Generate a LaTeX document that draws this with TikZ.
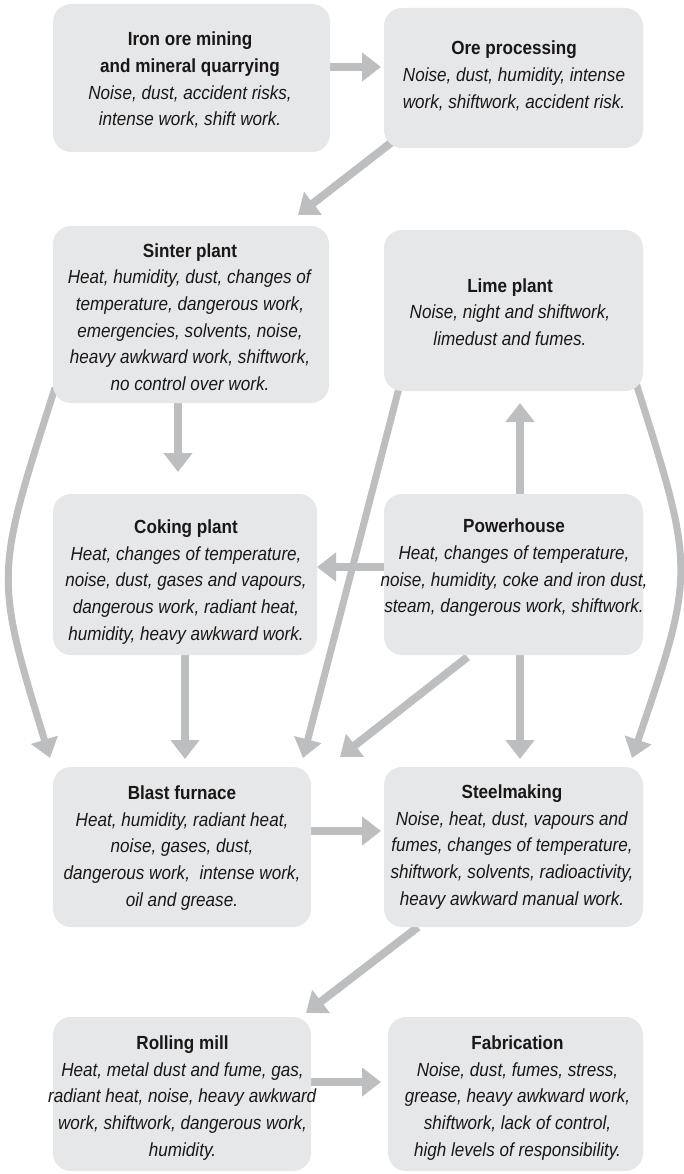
\documentclass[tikz,border=0pt]{standalone}
\usepackage{fontspec}
\setmainfont[FakeStretch=0.9]{Liberation Sans}
\usetikzlibrary{arrows.meta,calc,backgrounds}
\definecolor{boxfill}{HTML}{E6E7E8}
\definecolor{arrowcol}{HTML}{BCBEC0}
\definecolor{textcol}{HTML}{1A1718}
\begin{document}
\begin{tikzpicture}[x=1pt,y=-1pt,
  stagebox/.style={rectangle, rounded corners=18pt, fill=boxfill, inner sep=0pt, outer sep=0pt},
  txt/.style={align=center, text=textcol, inner sep=0pt, font=\fontsize{19pt}{26.7pt}\selectfont},
  flow/.style={draw=arrowcol, line width=8pt, -{Triangle[length=19pt,width=28pt]}},
  thinflow/.style={draw=arrowcol, line width=7pt, -{Triangle[length=19pt,width=27pt]}}]
\useasboundingbox (0,0) rectangle (684,1174);

% boxes
\node[stagebox, minimum width=277pt, minimum height=148pt] (iron) at (191.5,78) {};
\node[stagebox, minimum width=259pt, minimum height=140pt] (ore) at (513.5,78) {};
\node[stagebox, minimum width=276pt, minimum height=177pt] (sinter) at (191,314.5) {};
\node[stagebox, minimum width=259pt, minimum height=161pt] (lime) at (513.5,310.5) {};
\node[stagebox, minimum width=264pt, minimum height=161pt] (coking) at (185,574.5) {};
\node[stagebox, minimum width=259pt, minimum height=161pt] (power) at (513.5,574.5) {};
\node[stagebox, minimum width=258pt, minimum height=160pt] (blast) at (182,847) {};
\node[stagebox, minimum width=259pt, minimum height=160pt] (steel) at (513.5,847) {};
\node[stagebox, minimum width=258pt, minimum height=154pt] (rolling) at (182,1094) {};
\node[stagebox, minimum width=255pt, minimum height=154pt] (fab) at (515.5,1094) {};

% texts
\node[txt] (irontxt) at (190,80) {\textbf{Iron ore mining}\\\textbf{and mineral quarrying}\\\textit{Noise, dust, accident risks,}\\\textit{intense work, shift work.}};
\node[txt] (oretxt) at (514,76) {\textbf{Ore processing}\\\textit{Noise, dust, humidity, intense}\\\textit{work, shiftwork, accident risk.}};
\node[txt] (sintertxt) at (190,317) {\textbf{Sinter plant}\\\textit{Heat, humidity, dust, changes of}\\\textit{temperature, dangerous work,}\\\textit{emergencies, solvents, noise,}\\\textit{heavy awkward work, shiftwork,}\\\textit{no control over work.}};
\node[txt] (limetxt) at (510,312) {\textbf{Lime plant}\\\textit{Noise, night and shiftwork,}\\\textit{limedust and fumes.}};
\node[txt] (cokingtxt) at (186,582) {\textbf{Coking plant}\\\textit{Heat, changes of temperature,}\\\textit{noise, dust, gases and vapours,}\\\textit{dangerous work, radiant heat,}\\\textit{humidity, heavy awkward work.}};
\node[txt] (powertxt) at (514,568) {\textbf{Powerhouse}\\\textit{Heat, changes of temperature,}\\\textit{noise, humidity, coke and iron dust,}\\\textit{steam, dangerous work, shiftwork.}};
\node[txt] (blasttxt) at (182,848) {\textbf{Blast furnace}\\\textit{Heat, humidity, radiant heat,}\\\textit{noise, gases, dust,}\\\textit{dangerous work,\ \ intense work,}\\\textit{oil and grease.}};
\node[txt] (steeltxt) at (512,847) {\textbf{Steelmaking}\\\textit{Noise, heat, dust, vapours and}\\\textit{fumes, changes of temperature,}\\\textit{shiftwork, solvents, radioactivity,}\\\textit{heavy awkward manual work.}};
\node[txt] (rollingtxt) at (182.5,1098) {\textbf{Rolling mill}\\\textit{Heat, metal dust and fume, gas,}\\\textit{radiant heat, noise, heavy awkward}\\\textit{work, shiftwork, dangerous work,}\\\textit{humidity.}};
\node[txt] (fabtxt) at (517.5,1098) {\textbf{Fabrication}\\\textit{Noise, dust, fumes, stress,}\\\textit{grease, heavy awkward work,}\\\textit{shiftwork, lack of control,}\\\textit{high levels of responsibility.}};

\begin{pgfonlayer}{background}
\draw[flow] ($(iron.east)+(0,-11)$) -- ($(ore.west)+(-3,-11)$);
\draw[flow] ($(ore.south west)+(8,-6)$) -- ($(sinter.north east)+(-31,-11)$);
\draw[flow] ($(sinter.south)+(-13,0)$) -- ($(coking.north)+(-7,-22)$);
\draw[flow] ($(power.north)+(6.5,0)$) -- ($(lime.south)+(6.5,12)$);
\draw[flow] ($(power.west)+(0,-7.5)$) -- ($(power.west -| coking.east)+(0,-7.5)$);
\draw[flow] (coking.south) -- ($(coking.south |- blast.north)+(0,-8)$);
\draw[flow] ($(power.south)+(6.5,0)$) -- ($(steel.north)+(6.5,-8)$);
\draw[flow] ($(power.south)+(-46,2)$) -- ($(blast.north east)+(29,-10)$);
\draw[thinflow] ($(lime.south west)+(15,-3)$) -- ($(blast.north east)+(-8,-9)$);
\draw[thinflow] ($(sinter.south west)+(2,-15)$) .. controls (-5,575) and (-6,575) .. ($(blast.north west)+(-3,-9)$);
\draw[thinflow] ($(lime.south east)+(-7,-8)$) .. controls (695,570) and (696,570) .. ($(steel.north east)+(-11,-9)$);
\draw[flow] ($(blast.east)+(0,-16)$) -- ($(steel.west)+(-3,-16)$);
\draw[flow] ($(steel.south west)+(34,0)$) -- ($(rolling.north east)+(-5,-4)$);
\draw[flow] ($(rolling.east)+(0,-12)$) -- ($(fab.west)+(-7,-12)$);
\end{pgfonlayer}
\end{tikzpicture}
\end{document}
